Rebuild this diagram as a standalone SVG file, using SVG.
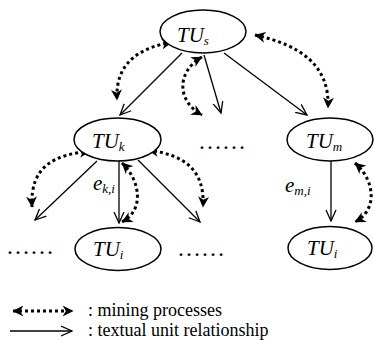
<svg xmlns="http://www.w3.org/2000/svg" width="374" height="340" viewBox="0 0 374 340">
<style>
.node ellipse{fill:#fff;stroke:#000;stroke-width:1.5}
.tu{font-style:italic;font-size:21px;fill:#000}
.sub{font-size:13px}
.rel{fill:none;stroke:#000;stroke-width:1.3;marker-end:url(#open)}
.mine{fill:none;stroke:#000;stroke-width:3;stroke-dasharray:3 3;marker-start:url(#fa);marker-end:url(#fa)}
.dots{font-size:24px;fill:#000}
.leg{font-size:18px;fill:#000}
</style>
<defs>
<marker id="fa" viewBox="0 0 10 10" refX="9.5" refY="5" markerWidth="11" markerHeight="11" markerUnits="userSpaceOnUse" orient="auto-start-reverse">
<path d="M0,0 L10,5 L0,10 L3,5 z" fill="#000"/>
</marker>
<marker id="open" viewBox="0 0 12 12" refX="11" refY="6" markerWidth="12" markerHeight="12" markerUnits="userSpaceOnUse" orient="auto">
<path d="M0,1 L11,6 L0,11" fill="none" stroke="#000" stroke-width="1.3"/>
</marker>
</defs>
<g id="connectors">
<line class="rel" x1="182" y1="53" x2="120" y2="115"/>
<line class="rel" x1="204" y1="55" x2="221" y2="113"/>
<line class="rel" x1="224" y1="53" x2="307" y2="115"/>
<line class="rel" x1="97" y1="161" x2="35" y2="220"/>
<line class="rel" x1="119" y1="161" x2="119" y2="223"/>
<line class="rel" x1="138" y1="160" x2="200" y2="222"/>
<line class="rel" x1="331" y1="161" x2="331" y2="221"/>
<path class="mine" d="M172,42 C140,48 115,62 117,100"/>
<path class="mine" d="M202,57 C178,70 175,100 202,115"/>
<path class="mine" d="M255,35 C300,45 330,65 328,108"/>
<path class="mine" d="M90,151 C55,155 30,165 32,207"/>
<path class="mine" d="M148,150 C185,155 205,170 203,207"/>
<path class="mine" d="M122,163 C140,180 145,210 122,222"/>
<path class="mine" d="M355,163 C375,180 378,210 355,222"/>
</g>
<g id="TUs" class="node"><ellipse cx="203" cy="31.5" rx="43" ry="21.5"/><text class="tu" font-family="'Liberation Serif', serif" x="177" y="42">TU<tspan class="sub" dy="3">s</tspan></text></g>
<g id="TUk" class="node"><ellipse cx="117.5" cy="139.5" rx="43.5" ry="21.5"/><text class="tu" font-family="'Liberation Serif', serif" x="92" y="148">TU<tspan class="sub" dy="3">k</tspan></text></g>
<g id="TUm" class="node"><ellipse cx="330" cy="139.5" rx="43" ry="21.5"/><text class="tu" font-family="'Liberation Serif', serif" x="306" y="148">TU<tspan class="sub" dy="3">m</tspan></text></g>
<g id="TUi1" class="node"><ellipse cx="118" cy="249" rx="43" ry="21.5"/><text class="tu" font-family="'Liberation Serif', serif" x="93" y="256">TU<tspan class="sub" dy="3">i</tspan></text></g>
<g id="TUi2" class="node"><ellipse cx="330" cy="248" rx="42" ry="21.5"/><text class="tu" font-family="'Liberation Serif', serif" x="307" y="255">TU<tspan class="sub" dy="3">i</tspan></text></g>
<g id="labels">
<text class="tu" font-family="'Liberation Serif', serif" x="93" y="190">e<tspan class="sub" dy="3">k,i</tspan></text>
<text class="tu" font-family="'Liberation Serif', serif" x="285" y="192">e<tspan class="sub" dy="3">m,i</tspan></text>
<text class="dots" font-family="'Liberation Serif', serif" x="198" y="149">……</text>
<text class="dots" font-family="'Liberation Serif', serif" x="177" y="256">……</text>
<text class="dots" font-family="'Liberation Serif', serif" x="6" y="254">……</text>
</g>
<g id="legend">
<line class="mine" x1="13" y1="311" x2="73" y2="311"/>
<line class="rel" x1="10" y1="331" x2="72" y2="331"/>
<text class="leg" font-family="'Liberation Serif', serif" x="88" y="316">: mining processes</text>
<text class="leg" font-family="'Liberation Serif', serif" x="88" y="336">: textual unit relationship</text>
</g>
</svg>
